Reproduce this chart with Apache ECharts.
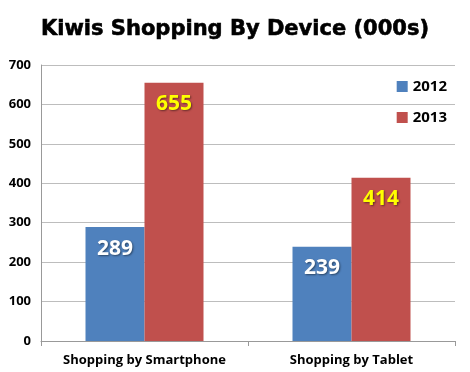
<!DOCTYPE html>
<html><head><meta charset="utf-8">
<script src="https://cdn.jsdelivr.net/npm/echarts@6/dist/echarts.min.js"></script>
<style>html,body{margin:0;padding:0;background:#fff}#c{width:470px;height:372px}</style>
</head><body><div id="c"></div>
<script>
var categories = ["Shopping by Smartphone", "Shopping by Tablet"];
var seriesNames = ["2012", "2013"];
var values2012 = [289, 239];
var values2013 = [655, 414];
var yTicks = [0, 100, 200, 300, 400, 500, 600, 700];

var chart = echarts.init(document.getElementById('c'));
var labelBase = {
  show: true, position: 'insideTop', distance: 11,
  fontFamily: 'Open Sans', fontWeight: 'bold', fontSize: 21,
  textShadowColor: 'rgba(0,0,0,0.45)', textShadowBlur: 2, textShadowOffsetX: 1, textShadowOffsetY: 1
};
chart.setOption({
  animation: false,
  title: {
    text: 'Kiwis Shopping By Device (000s)', left: 'center', top: 14,
    textStyle: { fontFamily: 'DejaVu Sans', fontWeight: 'bold', fontSize: 21, color: '#000',
      textBorderColor: '#000', textBorderWidth: 0.6 }
  },
  legend: {
    orient: 'vertical', right: 18, top: 74, itemGap: 16,
    itemWidth: 11, itemHeight: 11, icon: 'rect',
    data: seriesNames,
    textStyle: { fontFamily: 'Open Sans', fontWeight: 'bold', fontSize: 15, color: '#000' }
  },
  grid: { left: 41, right: 15, top: 65, bottom: 31 },
  xAxis: {
    type: 'category', data: categories,
    axisLine: { lineStyle: { color: '#999' } },
    axisTick: { show: true, length: 5, lineStyle: { color: '#999' } },
    axisLabel: { interval: 0, hideOverlap: false, fontFamily: 'Open Sans', fontWeight: 'bold', fontSize: 13, color: '#000', margin: 13 }
  },
  yAxis: {
    type: 'value', min: yTicks[0], max: yTicks[yTicks.length - 1], interval: 100,
    axisLine: { show: true, lineStyle: { color: '#999' } },
    axisTick: { show: false },
    axisLabel: { fontFamily: 'Open Sans', fontWeight: 'bold', fontSize: 13, color: '#000', margin: 10 },
    splitLine: { lineStyle: { color: '#bdbdbd' } }
  },
  series: [
    { name: seriesNames[0], type: 'bar', data: values2012, barWidth: 59, barGap: '0%',
      itemStyle: { color: '#4F81BD' },
      label: Object.assign({}, labelBase, { color: '#fff' }) },
    { name: seriesNames[1], type: 'bar', data: values2013, barWidth: 59, barGap: '0%',
      itemStyle: { color: '#C0504D' },
      label: Object.assign({}, labelBase, { color: '#FFFF00' }) }
  ]
});
</script></body></html>
